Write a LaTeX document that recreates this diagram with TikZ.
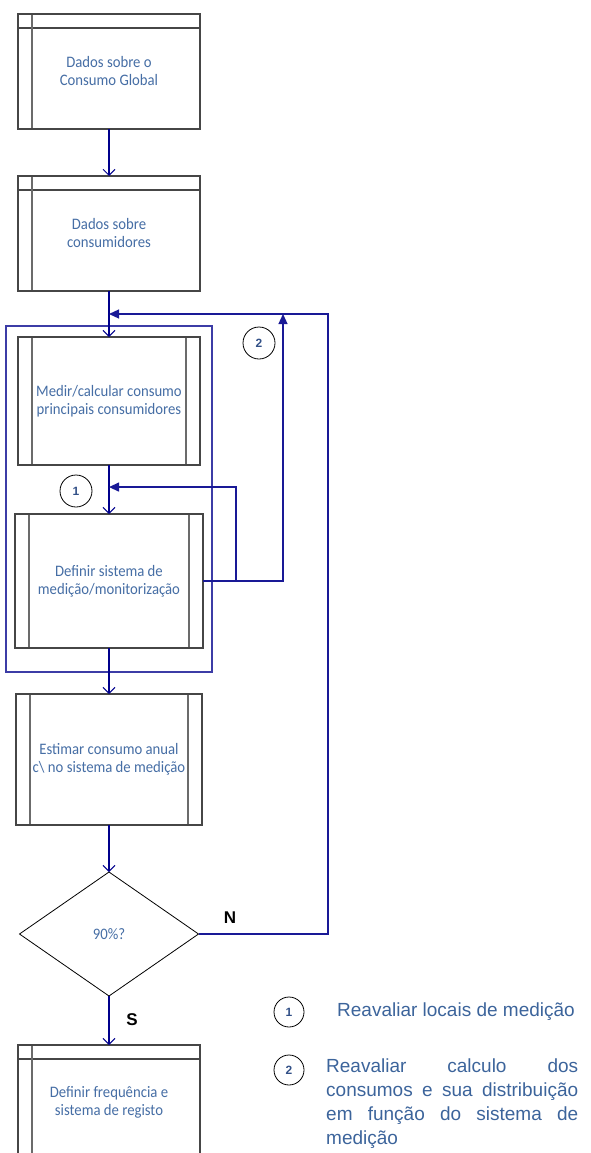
\documentclass[tikz,border=0pt]{standalone}
\usepackage{fontspec}
\setmainfont[FakeStretch=0.92]{Carlito}
\newfontfamily\legfont{Liberation Sans}
\usetikzlibrary{arrows.meta, positioning, shapes.geometric, calc}
\definecolor{navy}{RGB}{0,0,140}
\definecolor{loopblue}{RGB}{25,25,150}
\definecolor{boxtext}{RGB}{70,110,165}
\definecolor{legtext}{RGB}{60,100,155}
\definecolor{numtext}{RGB}{50,80,135}
\definecolor{edge}{RGB}{70,70,70}
\hyphenpenalty=10000
\tolerance=10000

\begin{document}
\begin{tikzpicture}[x=1pt, y=-1pt,
      node distance=47pt,
      base/.style={draw=edge, line width=1.1pt, fill=white, outer sep=0pt,
                   inner sep=2pt, text=boxtext, align=center,
                   font=\fontsize{16}{18}\selectfont},
      databox/.style={base, minimum width=182pt, minimum height=115pt,
                   path picture={
                     \draw[edge, line width=1.1pt]
                       ([yshift=-14pt]path picture bounding box.north west) --
                       ([yshift=-14pt]path picture bounding box.north east);
                     \draw[edge!80, line width=1.1pt]
                       ([xshift=14pt]path picture bounding box.north west) --
                       ([xshift=14pt]path picture bounding box.south west);}},
      procbox/.style={base, minimum width=182pt, minimum height=128pt,
                   path picture={
                     \draw[edge!80, line width=1.1pt]
                       ([xshift=14pt]path picture bounding box.north west) --
                       ([xshift=14pt]path picture bounding box.south west);
                     \draw[edge!80, line width=1.1pt]
                       ([xshift=-14pt]path picture bounding box.north east) --
                       ([xshift=-14pt]path picture bounding box.south east);}},
      decide/.style={diamond, draw=black, line width=0.8pt, aspect=1.44,
                   minimum width=179pt, minimum height=124pt, inner sep=0pt,
                   outer sep=0pt, text=boxtext, font=\fontsize{16}{18}\selectfont},
      flow/.style={draw=navy, line width=1.8pt,
                   -{Straight Barb[length=6pt, width=12pt, line width=1pt]}},
      fb/.style={draw=loopblue, line width=1.2pt, -{Triangle[length=10pt, width=9pt]}},
      grp/.style={draw=loopblue!85, line width=1.2pt},
      num/.style={circle, draw=black, line width=0.8pt, minimum size=32pt,
                  inner sep=0pt, text=numtext,
                  font=\legfont\bfseries\fontsize{12}{14}\selectfont},
      yn/.style={font=\legfont\bfseries\fontsize{17}{20}\selectfont},
      leg/.style={text=legtext, inner sep=0pt, anchor=west,
                  font=\legfont\fontsize{19}{24}\selectfont}
    ]
    \useasboundingbox (0,0) rectangle (591,1153);
    \node[databox] (d1) at (109,71.5) {Dados sobre o\\Consumo Global};
    \node[databox, below=of d1] (d2) {Dados sobre\\consumidores};
    \node[procbox, below=46pt of d2] (m3) {Medir/calcular consumo\\principais consumidores};
    \node[procbox, below=49pt of m3, minimum width=188pt, minimum height=134pt] (m4)
      {Definir sistema de\\medição/monitorização};
    \node[procbox, below=46pt of m4, minimum width=186pt, minimum height=131pt] (m5)
      {Estimar consumo anual\\c\textbackslash\ no sistema de medição};
    \node[decide, below=of m5] (q) {90\%?};
    \node[databox, below=49pt of q] (d6) {Definir frequência e\\sistema de registo};

    \draw[grp] ($(m4.west |- m3.north)+(-9,-11)$) rectangle ($(m4.south east)+(9,24)$);
    \coordinate (k1) at ($(m3.south)!0.45!(m4.north)$);
    \coordinate (k2) at ($(d2.south)!0.5!(m3.north)$);

    \draw[flow] (d1) -- (d2);
    \draw[flow] (d2) -- (m3);
    \draw[flow] (m3) -- (m4);
    \draw[flow] (m4) -- (m5);
    \draw[flow] (m5) -- (q);
    \draw[flow] (q) -- (d6);
    \draw[fb] (m4.east) -| ($(k1)+(127,0)$) -- (k1);
    \draw[fb] (m4.east) -| ($(k2)+(174,0)$);
    \draw[fb] (q.east) -| ($(k2)+(219,0)$) -- (k2);

    \node[num] (n1) at (76,491) {1};
    \node[num] (n2) at (259,343) {2};
    \node[yn] (yesno) at (230,918) {N};
    \node[yn] (yess) at (132,1020) {S};

    \node[num, minimum size=30pt] (l1) at (289,1012) {1};
    \node[leg] (t1) at (337,1012) {Reavaliar locais de medição};
    \node[num, minimum size=30pt] (l2) at (289,1070) {2};
    \node[leg, anchor=north west, text width=252pt, align=justify] (t2) at (326,1059)
      {Reavaliar calculo dos consumos e sua distribuição em função do sistema de medição};
  \end{tikzpicture}
\end{document}
